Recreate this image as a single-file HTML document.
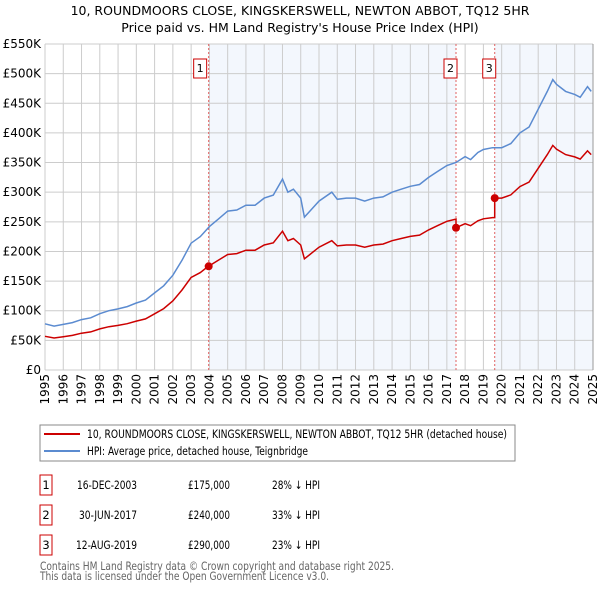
<!DOCTYPE html>
<html><head><meta charset="utf-8"><style>
body{margin:0;background:#fff;font-family:"DejaVu Sans","Liberation Sans",sans-serif;}
svg{display:block}
</style></head><body>
<svg width="600" height="590" xmlns="http://www.w3.org/2000/svg" id="chart" font-family="DejaVu Sans, Liberation Sans, sans-serif">
<text x="300" y="15" text-anchor="middle" font-size="12.5" fill="#000">10, ROUNDMOORS CLOSE, KINGSKERSWELL, NEWTON ABBOT, TQ12 5HR</text>
<text x="300" y="32" text-anchor="middle" font-size="12.5" fill="#000">Price paid vs. HM Land Registry's House Price Index (HPI)</text>
<g id="plot"></g>
<g>
<rect x="40" y="425" width="475" height="36" fill="#fff" stroke="#888"/>
<line x1="44" y1="434" x2="80" y2="434" stroke="#cc0000" stroke-width="2"/>
<text x="87" y="438" font-size="11.5" textLength="420" lengthAdjust="spacingAndGlyphs">10, ROUNDMOORS CLOSE, KINGSKERSWELL, NEWTON ABBOT, TQ12 5HR (detached house)</text>
<line x1="44" y1="451" x2="80" y2="451" stroke="#5b8bd0" stroke-width="2"/>
<text x="87" y="455" font-size="11.5" textLength="221" lengthAdjust="spacingAndGlyphs">HPI: Average price, detached house, Teignbridge</text>
</g>
<g font-size="11.5">
<rect x="40" y="475" width="12" height="20" fill="#fff" stroke="#cc0000"/><text x="46" y="489" text-anchor="middle">1</text>
<text x="77" y="489" textLength="60" lengthAdjust="spacingAndGlyphs">16-DEC-2003</text><text x="188" y="489" textLength="42" lengthAdjust="spacingAndGlyphs">£175,000</text><text x="272" y="489" textLength="48" lengthAdjust="spacingAndGlyphs">28% ↓ HPI</text>
<rect x="40" y="505" width="12" height="20" fill="#fff" stroke="#cc0000"/><text x="46" y="519" text-anchor="middle">2</text>
<text x="79" y="519" textLength="58" lengthAdjust="spacingAndGlyphs">30-JUN-2017</text><text x="188" y="519" textLength="42" lengthAdjust="spacingAndGlyphs">£240,000</text><text x="272" y="519" textLength="48" lengthAdjust="spacingAndGlyphs">33% ↓ HPI</text>
<rect x="40" y="535" width="12" height="20" fill="#fff" stroke="#cc0000"/><text x="46" y="549" text-anchor="middle">3</text>
<text x="76" y="549" textLength="61" lengthAdjust="spacingAndGlyphs">12-AUG-2019</text><text x="188" y="549" textLength="42" lengthAdjust="spacingAndGlyphs">£290,000</text><text x="272" y="549" textLength="48" lengthAdjust="spacingAndGlyphs">23% ↓ HPI</text>
</g>
<text x="40" y="570" font-size="11.5" fill="#666" textLength="354" lengthAdjust="spacingAndGlyphs">Contains HM Land Registry data © Crown copyright and database right 2025.</text>
<text x="40" y="580" font-size="11.5" fill="#666" textLength="289" lengthAdjust="spacingAndGlyphs">This data is licensed under the Open Government Licence v3.0.</text>
</svg>
<script>
const hpiYears=[1995,1995.5,1996,1996.5,1997,1997.5,1998,1998.5,1999,1999.5,2000,2000.5,2001,2001.5,2002,2002.5,2003,2003.5,2004,2004.5,2005,2005.5,2006,2006.5,2007,2007.5,2008,2008.3,2008.6,2009,2009.2,2009.5,2010,2010.7,2011,2011.5,2012,2012.5,2013,2013.5,2014,2014.5,2015,2015.5,2016,2016.5,2017,2017.5,2018,2018.3,2018.7,2019,2019.5,2020,2020.5,2021,2021.5,2022,2022.5,2022.8,2023,2023.5,2024,2024.3,2024.7,2024.9];
const hpiValues=[78,74,77,80,85,88,95,100,103,107,113,118,130,142,160,185,214,225,242,255,268,270,278,278,290,295,322,300,305,290,258,268,285,300,288,290,290,285,290,292,300,305,310,313,325,335,345,350,360,355,367,372,375,375,382,400,410,440,470,490,482,470,465,460,478,470];
const saleYears=[2003.96,2017.5,2019.62];
const salePrices=[175000,240000,290000];
const saleLabels=["1","2","3"];
const yTicks=[0,50,100,150,200,250,300,350,400,450,500,550];
const yTickLabels=["£0","£50K","£100K","£150K","£200K","£250K","£300K","£350K","£400K","£450K","£500K","£550K"];
const preRatio=0.73;

const X0=45,X1=593,Y0=370,Y1=44;
const xs=y=>X0+(y-1995)/30*(X1-X0);
const ys=v=>Y0-v/550*(Y0-Y1);
const NS="http://www.w3.org/2000/svg";
const g=document.getElementById('plot');
function mk(t,a){const e=document.createElementNS(NS,t);for(const k in a)e.setAttribute(k,a[k]);g.appendChild(e);return e;}
function hpiAt(y){for(let i=0;i<hpiYears.length-1;i++){if(y<=hpiYears[i+1]){const t=(y-hpiYears[i])/(hpiYears[i+1]-hpiYears[i]);return hpiValues[i]+t*(hpiValues[i+1]-hpiValues[i]);}}return hpiValues[hpiValues.length-1];}
const bands=[[saleYears[0],saleYears[1]],[saleYears[2],2025]];
bands.forEach((b,i)=>{const r=mk('rect',{x:xs(b[0]),y:Y1,width:xs(b[1])-xs(b[0]),height:Y0-Y1,fill:'#eef3fc',opacity:0.7});

});
for(let yr=1995;yr<=2025;yr++){const l=mk('line',{x1:xs(yr),x2:xs(yr),y1:Y1,y2:Y0,stroke:'#cccccc'});


const t=mk('text',{x:0,y:0,'font-size':12,'text-anchor':'end',transform:`translate(${xs(yr)+4},${Y0+4}) rotate(-90)`});t.textContent=yr;

}
yTicks.forEach((v,i)=>{const l=mk('line',{x1:X0,x2:X1,y1:ys(v),y2:ys(v),stroke:'#cccccc'});


const t=mk('text',{x:41,y:ys(v)+4,'font-size':12,'text-anchor':'end'});t.textContent=yTickLabels[i];

});
saleYears.forEach((s,i)=>{const l=mk('line',{x1:xs(s),x2:xs(s),y1:Y1,y2:Y0,stroke:'#e06060','stroke-dasharray':'2,2'});

});
let d=hpiYears.map((y,i)=>(i?'L':'M')+xs(y).toFixed(1)+','+ys(hpiValues[i]).toFixed(1)).join('');
const hp=mk('path',{d,fill:'none',stroke:'#5b8bd0','stroke-width':1.5});


const pts=[];
const all=[...hpiYears,...saleYears,...saleYears.map(s=>s-0.001)].sort((a,b)=>a-b);
all.forEach(y=>{let r=preRatio;for(let i=0;i<saleYears.length;i++){if(y>=saleYears[i])r=salePrices[i]/1000/hpiAt(saleYears[i]);}pts.push([y,hpiAt(y)*r]);});
d=pts.map((p,i)=>(i?'L':'M')+xs(p[0]).toFixed(1)+','+ys(p[1]).toFixed(1)).join('');
const pp=mk('path',{d,fill:'none',stroke:'#cc0000','stroke-width':1.5});


saleYears.forEach((s,i)=>{const c=mk('circle',{cx:xs(s),cy:ys(salePrices[i]/1000),r:4,fill:'#cc0000'});


const bx=xs(s)-(i==0?9:6)-6;
const r=mk('rect',{x:bx,y:59,width:13,height:19,fill:'#fff',stroke:'#cc0000'});


const t=mk('text',{x:bx+6.5,y:72,'font-size':11,'text-anchor':'middle'});t.textContent=saleLabels[i];

});
const fr=mk('line',{x1:X1,x2:X1,y1:Y1,y2:Y0,stroke:'#999'});


</script>
</body></html>
